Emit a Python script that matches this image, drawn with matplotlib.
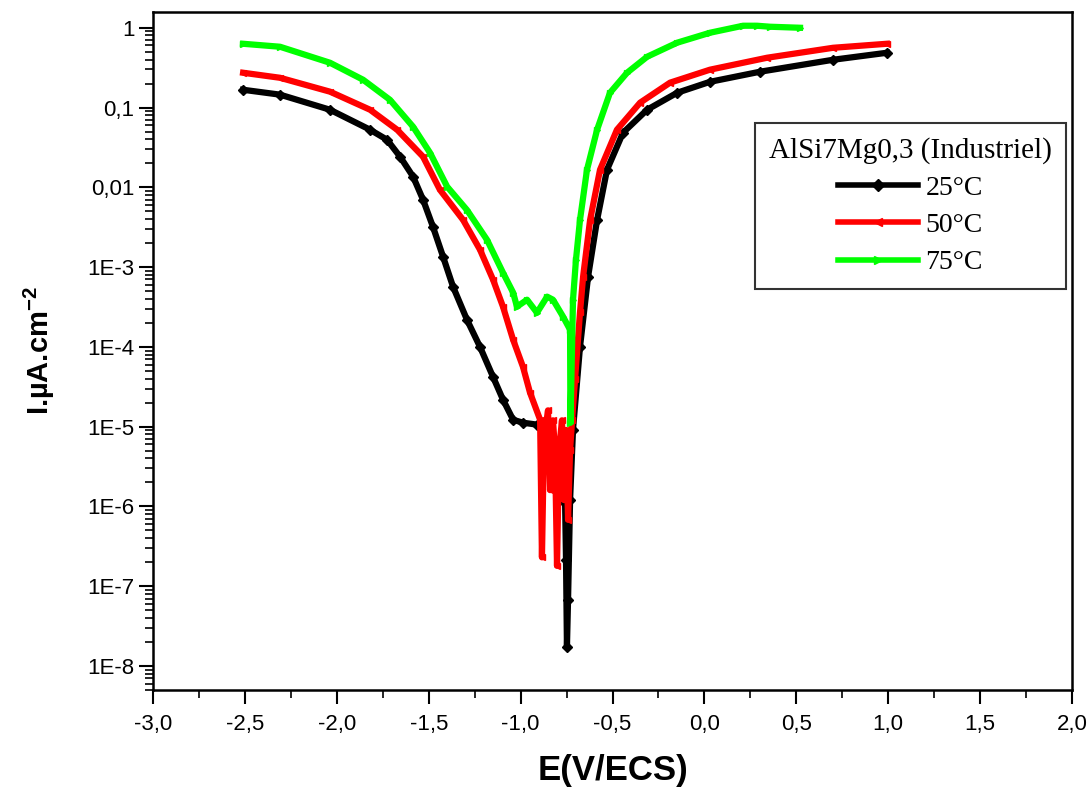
import matplotlib
matplotlib.use("Agg")
import matplotlib.pyplot as plt
from matplotlib.ticker import MultipleLocator, FuncFormatter, LogLocator, NullFormatter

plt.rcParams["font.family"] = ["Liberation Sans", "DejaVu Sans"]
plt.rcParams["mathtext.fontset"] = "custom"
plt.rcParams["mathtext.rm"] = "Liberation Sans"
plt.rcParams["mathtext.bf"] = "Liberation Sans:bold"

# 25 °C
e_25 = [-2.51, -2.309, -2.037, -1.819, -1.727, -1.656, -1.585, -1.531, -1.477, -1.422,
        -1.368, -1.292, -1.221, -1.15, -1.096, -1.041, -0.987, -0.911, -0.878, -0.856,
        -0.813, -0.786, -0.758, -0.753, -0.748, -0.742, -0.731, -0.715, -0.677, -0.633,
        -0.584, -0.53, -0.443, -0.312, -0.149, 0.03, 0.302, 0.7, 0.993]
i_25 = [0.167, 0.145, 0.0938, 0.0527, 0.0395, 0.0242, 0.0136, 7.0e-3, 3.2e-3, 1.35e-3,
        5.7e-4, 2.19e-4, 1.0e-4, 4.2e-5, 2.18e-5, 1.22e-5, 1.12e-5, 1.06e-5, 8.4e-6, 6.9e-6,
        3.9e-6, 2.2e-6, 1.1e-6, 2.1e-7, 1.75e-8, 6.8e-8, 1.2e-6, 9.2e-6, 1.0e-4, 7.6e-4,
        3.9e-3, 0.0166, 0.0483, 0.0938, 0.153, 0.21, 0.281, 0.397, 0.486]

# 50 °C
e_50 = [-2.51, -2.309, -2.037, -1.819, -1.672, -1.531, -1.439, -1.313, -1.221, -1.15,
        -1.096, -1.041, -0.987, -0.949, -0.894, -0.884, -0.873, -0.851, -0.84, -0.824,
        -0.813, -0.802, -0.791, -0.775, -0.764, -0.753, -0.742, -0.731, -0.72, -0.704,
        -0.677, -0.66, -0.622, -0.568, -0.476, -0.35, -0.187, 0.03, 0.341, 0.7, 0.993]
i_50 = [0.273, 0.236, 0.158, 0.0938, 0.0527, 0.0242, 9.3e-3, 3.9e-3, 1.65e-3, 6.95e-4,
        3.19e-4, 1.23e-4, 5.6e-5, 2.67e-5, 1.22e-5, 2.3e-7, 6.9e-6, 1.6e-5, 1.6e-6, 1.2e-5,
        5.1e-6, 1.8e-7, 5.1e-6, 1.2e-5, 1.2e-6, 9.1e-6, 6.8e-7, 5.1e-6, 1.2e-5, 3.9e-5,
        2.7e-4, 7.6e-4, 3.9e-3, 0.0166, 0.0527, 0.115, 0.205, 0.298, 0.421, 0.561, 0.63]

# 75 °C
e_75 = [-2.51, -2.309, -2.037, -1.857, -1.711, -1.585, -1.493, -1.4, -1.292, -1.183,
        -1.096, -1.041, -1.02, -0.965, -0.911, -0.856, -0.824, -0.769, -0.731, -0.729,
        -0.715, -0.699, -0.677, -0.639, -0.584, -0.514, -0.421, -0.312, -0.149, 0.03,
        0.21, 0.286, 0.357, 0.52]
i_75 = [0.63, 0.578, 0.364, 0.223, 0.125, 0.0574, 0.0271, 0.0102, 5.2e-3, 2.2e-3,
        8.5e-4, 4.8e-4, 3.19e-4, 3.9e-4, 2.68e-4, 4.26e-4, 3.9e-4, 2.39e-4, 1.64e-4, 1.12e-5,
        3.9e-4, 1.23e-3, 3.9e-3, 0.0166, 0.0527, 0.153, 0.273, 0.433, 0.649, 0.866,
        1.06, 1.06, 1.03, 1.0]

labels = ["25°C", "50°C", "75°C"]
colors = ["black", "red", "#00ff00"]
markers = ["D", "<", ">"]

fig = plt.figure(figsize=(10.9, 7.94), dpi=100)
ax = fig.add_axes([0.1404, 0.131, 0.8431, 0.854])

for e, i, lab, c, m in zip([e_25, e_50, e_75], [i_25, i_50, i_75], labels, colors, markers):
    ax.plot(e, i, color=c, lw=4.5, marker=m, ms=5, label=lab)

ax.set_yscale("log")
ax.set_xlim(-3, 2)
ax.set_ylim(5e-9, 1.58)

ax.xaxis.set_major_locator(MultipleLocator(0.5))
ax.xaxis.set_minor_locator(MultipleLocator(0.25))
ax.xaxis.set_major_formatter(FuncFormatter(lambda v, p: f"{v:.1f}".replace(".", ",").replace("-0,0", "0,0")))

y_ticks = [1e-8, 1e-7, 1e-6, 1e-5, 1e-4, 1e-3, 1e-2, 1e-1, 1]
y_tick_labels = ["1E-8", "1E-7", "1E-6", "1E-5", "1E-4", "1E-3", "0,01", "0,1", "1"]
ax.set_yticks(y_ticks, y_tick_labels)
ax.yaxis.set_minor_locator(LogLocator(base=10, subs=range(2, 10), numticks=20))
ax.yaxis.set_minor_formatter(NullFormatter())

ax.tick_params(axis="both", which="major", direction="out", length=10, width=1.5, labelsize=16)
ax.tick_params(axis="both", which="minor", direction="out", length=6, width=1.2)
ax.tick_params(axis="x", pad=7)
for s in ax.spines.values():
    s.set_linewidth(1.8)

ax.set_xlabel("E(V/ECS)", fontsize=25, fontweight="bold", labelpad=14)
ax.set_ylabel(r"I.µA.cm$^{\mathbf{-2}}$", fontsize=21, fontweight="bold", labelpad=22)

leg = ax.legend(title="AlSi7Mg0,3 (Industriel)", loc="upper right",
                bbox_to_anchor=(0.993, 0.836), frameon=True, fancybox=False,
                prop={"family": "Liberation Serif", "size": 20}, handlelength=2.9,
                borderpad=0.5, labelspacing=0.42, handletextpad=0.25, borderaxespad=0)
leg.get_title().set_fontfamily("Liberation Serif")
leg.get_title().set_fontsize(21)
leg.get_frame().set_edgecolor("black")
leg.get_frame().set_linewidth(1.5)
for h in leg.legend_handles:
    h.set_linewidth(4)
    h.set_markersize(6)

fig.savefig("out.png", dpi=100)
